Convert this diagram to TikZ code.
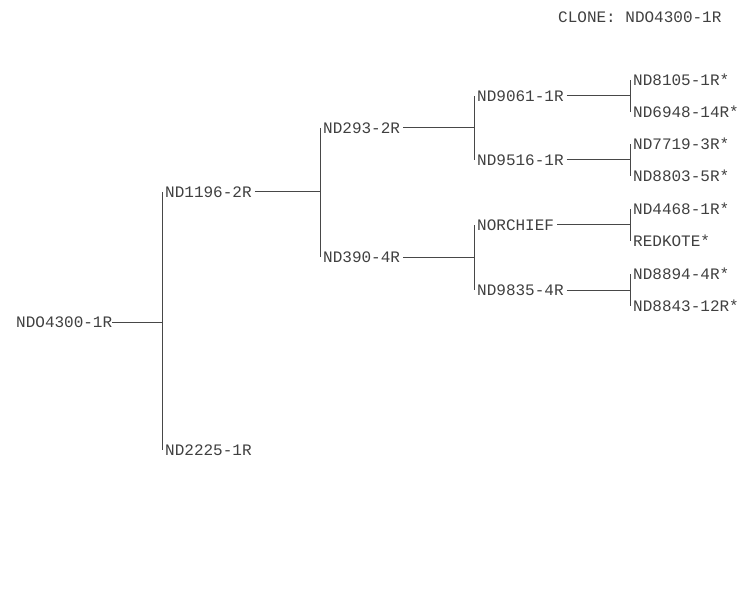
\documentclass[tikz,border=0pt]{standalone}
\usepackage{fontspec}
\newfontfamily\clonefont{Liberation Mono}
\tikzset{
  lbl/.style={anchor=west, inner xsep=3pt, inner ysep=1pt, font=\clonefont\fontsize{16}{17}\selectfont, text=black!75},
  br/.style={draw=black!72, line width=1pt}
}

\begin{document}
\begin{tikzpicture}[x=1pt,y=-1pt]
\useasboundingbox (0,0) rectangle (745,591);
\node[lbl, inner xsep=0pt] (title) at (558,17) {CLONE: NDO4300-1R};
\node[lbl, inner xsep=0pt] (root) at (16,322) {NDO4300-1R};
\node[lbl] (n1196) at (162,192) {ND1196-2R};
\node[lbl] (n2225) at (162,450) {ND2225-1R};
\node[lbl] (n293) at (320,128) {ND293-2R};
\node[lbl] (n390) at (320,257) {ND390-4R};
\node[lbl] (n9061) at (474,96) {ND9061-1R};
\node[lbl] (n9516) at (474,160) {ND9516-1R};
\node[lbl] (norchief) at (474,225) {NORCHIEF};
\node[lbl] (n9835) at (474,290) {ND9835-4R};
\node[lbl] (n8105) at (630,80) {ND8105-1R*};
\node[lbl] (n6948) at (630,112) {ND6948-14R*};
\node[lbl] (n7719) at (630,144) {ND7719-3R*};
\node[lbl] (n8803) at (630,176) {ND8803-5R*};
\node[lbl] (n4468) at (630,209) {ND4468-1R*};
\node[lbl] (redkote) at (630,241) {REDKOTE*};
\node[lbl] (n8894) at (630,274) {ND8894-4R*};
\node[lbl] (n8843) at (630,306) {ND8843-12R*};
\draw[br] (root.east) -| (n1196.west);
\draw[br] (root.east) -| (n2225.west);
\draw[br] (n1196.east) -| (n293.west);
\draw[br] (n1196.east) -| (n390.west);
\draw[br] (n293.east) -| (n9061.west);
\draw[br] (n293.east) -| (n9516.west);
\draw[br] (n390.east) -| (norchief.west);
\draw[br] (n390.east) -| (n9835.west);
\draw[br] (n9061.east) -| (n8105.west);
\draw[br] (n9061.east) -| (n6948.west);
\draw[br] (n9516.east) -| (n7719.west);
\draw[br] (n9516.east) -| (n8803.west);
\draw[br] (norchief.east) -| (n4468.west);
\draw[br] (norchief.east) -| (redkote.west);
\draw[br] (n9835.east) -| (n8894.west);
\draw[br] (n9835.east) -| (n8843.west);
\end{tikzpicture}
\end{document}
